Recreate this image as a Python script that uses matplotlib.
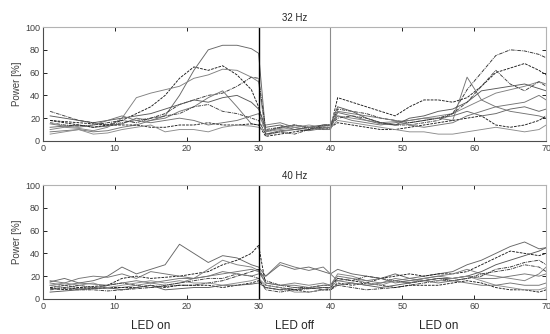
import matplotlib
matplotlib.use('Agg')
import matplotlib.pyplot as plt

plt.rcParams['font.family'] = ['Liberation Sans', 'DejaVu Sans']

# sample positions (seconds)
x = [1, 3, 5, 7, 9, 11, 13, 15, 17, 19, 21, 23, 25, 27, 29, 30, 31, 33, 35, 37,
     39, 40, 41, 43, 45, 47, 49, 51, 53, 55, 57, 59, 61, 63, 65, 67, 69, 70]

# 32 Hz traces
hz32 = [
    [12, 13, 14, 12, 13, 15, 20, 18, 22, 40, 62, 80, 84, 84, 81, 77, 6, 9, 10, 9, 11, 12, 25, 22, 18, 15, 14, 16, 18, 20, 22, 26, 22, 24, 28, 30, 26, 28],
    [18, 16, 14, 12, 14, 18, 24, 30, 40, 55, 65, 62, 66, 58, 45, 30, 8, 12, 14, 12, 10, 11, 38, 34, 30, 26, 22, 30, 36, 36, 34, 38, 48, 60, 64, 68, 62, 58],
    [10, 12, 11, 9, 12, 20, 38, 42, 45, 48, 55, 58, 63, 62, 56, 52, 5, 8, 10, 12, 14, 14, 22, 20, 18, 16, 17, 18, 20, 22, 24, 30, 36, 42, 45, 48, 52, 50],
    [16, 14, 13, 14, 16, 18, 16, 20, 24, 32, 36, 40, 42, 48, 56, 55, 10, 12, 14, 11, 12, 12, 28, 26, 24, 20, 18, 16, 18, 20, 24, 45, 60, 75, 80, 79, 76, 73],
    [8, 9, 10, 8, 9, 12, 14, 18, 20, 26, 30, 38, 44, 30, 15, 14, 14, 16, 12, 10, 13, 14, 22, 18, 16, 14, 16, 18, 20, 20, 18, 56, 36, 30, 26, 24, 22, 20],
    [18, 17, 16, 15, 14, 14, 14, 12, 12, 14, 14, 16, 14, 14, 15, 14, 4, 6, 8, 10, 12, 12, 16, 14, 12, 10, 10, 12, 14, 16, 18, 20, 22, 14, 12, 14, 18, 22],
    [22, 20, 18, 16, 18, 20, 22, 24, 28, 32, 36, 34, 38, 40, 34, 28, 12, 14, 10, 12, 14, 14, 30, 26, 20, 16, 14, 20, 22, 26, 28, 34, 44, 46, 48, 50, 46, 44],
    [6, 8, 10, 6, 7, 10, 12, 14, 8, 10, 10, 8, 12, 14, 13, 12, 8, 10, 12, 14, 12, 12, 18, 16, 14, 12, 10, 8, 8, 6, 6, 8, 10, 12, 10, 8, 10, 14],
    [26, 22, 18, 16, 14, 16, 18, 20, 22, 24, 30, 32, 26, 24, 20, 18, 6, 8, 6, 10, 14, 14, 20, 22, 20, 16, 14, 14, 16, 18, 24, 34, 48, 62, 50, 44, 52, 48],
    [15, 13, 12, 14, 18, 22, 18, 16, 18, 20, 18, 14, 16, 18, 22, 24, 9, 11, 14, 12, 10, 10, 26, 24, 22, 20, 18, 14, 12, 14, 16, 22, 26, 30, 32, 34, 40, 36],
]

# 40 Hz traces
hz40 = [
    [15, 18, 14, 16, 20, 28, 22, 26, 30, 48, 40, 32, 38, 36, 30, 28, 20, 30, 26, 28, 24, 22, 26, 22, 20, 18, 22, 18, 20, 22, 24, 30, 34, 40, 46, 50, 44, 45],
    [10, 12, 10, 11, 12, 18, 20, 18, 19, 20, 22, 24, 30, 34, 40, 47, 12, 10, 8, 10, 12, 12, 18, 16, 14, 18, 20, 22, 20, 22, 22, 24, 30, 36, 42, 40, 38, 40],
    [12, 10, 9, 10, 9, 10, 12, 14, 12, 14, 18, 26, 34, 30, 28, 25, 14, 12, 14, 12, 14, 12, 22, 20, 16, 14, 18, 16, 18, 20, 22, 26, 22, 20, 18, 16, 22, 28],
    [8, 9, 8, 8, 7, 8, 9, 10, 11, 12, 12, 14, 16, 20, 24, 26, 16, 12, 10, 10, 8, 8, 12, 10, 8, 9, 10, 12, 14, 16, 16, 18, 20, 26, 28, 32, 34, 30],
    [14, 12, 14, 13, 12, 14, 16, 14, 16, 18, 18, 20, 22, 24, 26, 24, 14, 12, 12, 10, 12, 12, 20, 18, 16, 18, 14, 16, 18, 20, 18, 20, 18, 18, 20, 22, 20, 22],
    [10, 8, 10, 9, 10, 10, 10, 12, 10, 12, 12, 12, 10, 12, 14, 16, 10, 8, 8, 6, 8, 8, 14, 12, 14, 12, 10, 12, 12, 12, 14, 16, 14, 10, 8, 8, 6, 8],
    [6, 7, 8, 9, 10, 8, 10, 12, 8, 9, 10, 10, 12, 12, 13, 14, 10, 8, 10, 9, 10, 10, 12, 14, 12, 10, 12, 14, 16, 18, 18, 20, 24, 30, 34, 38, 42, 45],
    [12, 14, 12, 14, 10, 12, 14, 16, 14, 16, 14, 14, 12, 14, 16, 18, 12, 10, 6, 6, 8, 10, 16, 18, 14, 12, 16, 14, 18, 16, 18, 20, 16, 12, 10, 8, 8, 10],
    [9, 10, 12, 10, 12, 14, 12, 10, 12, 14, 16, 18, 18, 22, 20, 18, 8, 6, 8, 9, 10, 10, 18, 16, 20, 18, 16, 14, 16, 18, 16, 18, 22, 24, 26, 30, 28, 24],
    [16, 14, 18, 20, 19, 22, 18, 24, 22, 20, 18, 20, 24, 22, 20, 22, 20, 32, 28, 25, 28, 22, 16, 14, 12, 14, 16, 18, 16, 14, 16, 14, 12, 12, 14, 12, 12, 14],
]

titles = ['32 Hz', '40 Hz']
phases = ['LED on', 'LED off', 'LED on']
phase_x = [15, 35, 55]

colors = ['0.4', '0.1', '0.5', '0.2', '0.45', '0.1', '0.35', '0.55', '0.25', '0.45']
styles = ['-', (0, (3, 1.2)), '-', (0, (4, 1, 1, 1)), '-', (0, (3, 1.2)),
          '-', '-', (0, (4, 1, 1, 1)), '-']

fig = plt.figure(figsize=(5.5, 3.34), dpi=100)
ax1 = fig.add_axes([0.078, 0.578, 0.915, 0.341])
ax2 = fig.add_axes([0.078, 0.105, 0.915, 0.341])

for ax, data, title in zip([ax1, ax2], [hz32, hz40], titles):
    for i, y in enumerate(data):
        ax.plot(x, y, color=colors[i], ls=styles[i], lw=0.65)
    ax.axvline(30, color='k', lw=1.0)
    ax.axvline(40, color='0.55', lw=0.8)
    ax.set_xlim(0, 70)
    ax.set_ylim(0, 100)
    ax.set_xticks(range(0, 71, 10))
    ax.set_yticks(range(0, 101, 20))
    ax.tick_params(direction='in', length=3, width=0.6, labelsize=6.5,
                   labelcolor='0.25', top=True, right=True, pad=2)
    for s in ['top', 'right']:
        ax.spines[s].set_color('0.7')
    for s in ['left', 'bottom']:
        ax.spines[s].set_color('0.3')
    ax.set_title(title, fontsize=7, color='0.15', pad=4)
    ax.set_ylabel('Power [%]', fontsize=7, color='0.25', labelpad=2)

for px, t in zip(phase_x, phases):
    ax2.text(px, -24, t, ha='center', va='center', fontsize=8.5, color='0.15')

fig.savefig('out.png', dpi=100)
